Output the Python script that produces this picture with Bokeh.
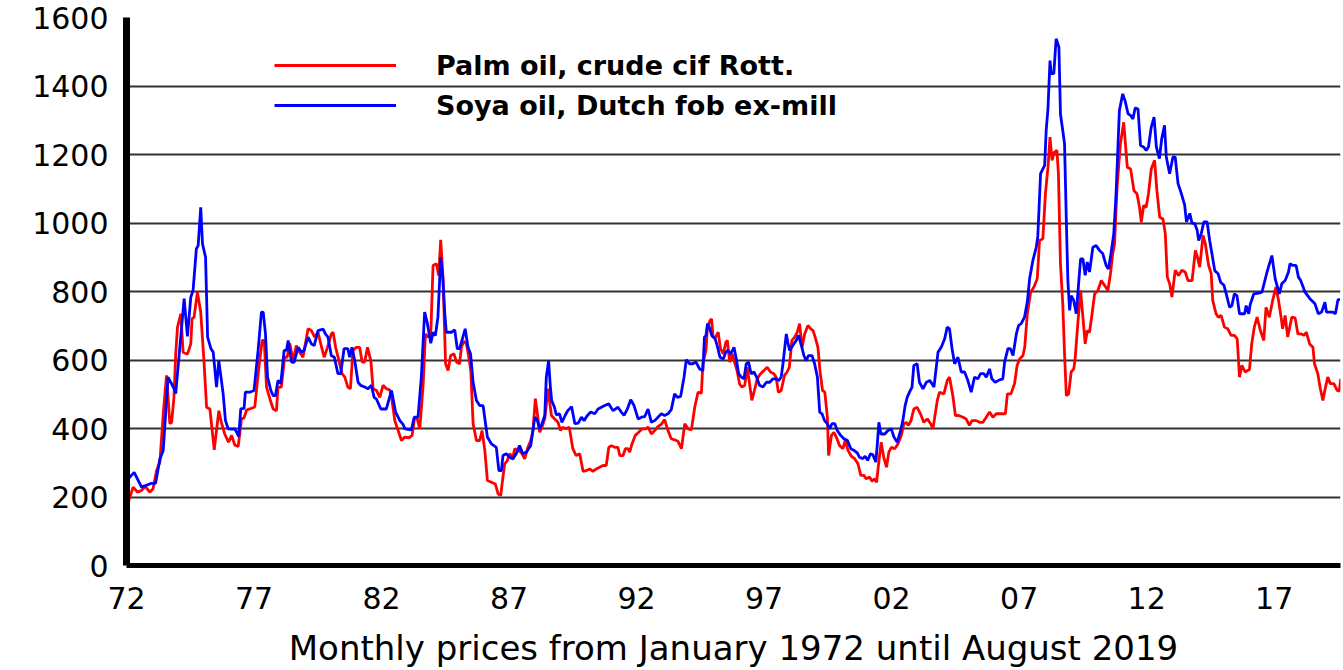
from bokeh.plotting import figure
from bokeh.models import Range1d, FixedTicker, Legend, LegendItem
from bokeh.embed import file_html
from bokeh.resources import INLINE

# ---- data (decimal year, USD/t) ----
palm_t = [1972.03,1972.07,1972.26,1972.43,1972.58,1972.74,1972.91,1973.04,1973.18,1973.31,1973.44,1973.57,1973.70,1973.77,1973.86,1973.93,
1974.00,1974.13,1974.22,1974.39,1974.52,1974.57,1974.65,1974.78,1974.91,1975.04,1975.14,1975.27,1975.44,1975.62,1975.72,1975.85,
1976.00,1976.12,1976.25,1976.38,1976.51,1976.61,1976.71,1976.90,1977.03,1977.19,1977.32,1977.40,1977.49,1977.62,1977.75,1977.88,1977.94,
1978.07,1978.20,1978.30,1978.40,1978.53,1978.66,1978.79,1978.92,1978.99,1979.12,1979.25,1979.38,1979.51,1979.60,1979.75,1979.88,
1980.03,1980.10,1980.20,1980.33,1980.45,1980.56,1980.68,1980.78,1980.88,1981.01,1981.14,1981.24,1981.34,1981.45,1981.58,1981.67,1981.80,1981.93,
1982.06,1982.19,1982.32,1982.41,1982.52,1982.65,1982.78,1982.91,1983.07,1983.20,1983.30,1983.40,1983.50,1983.63,1983.72,1983.82,1983.93,
1984.02,1984.15,1984.24,1984.32,1984.41,1984.51,1984.61,1984.71,1984.84,1984.94,1985.06,1985.13,1985.23,1985.33,1985.40,1985.50,1985.59,1985.72,1985.85,1985.94,
1986.05,1986.15,1986.31,1986.46,1986.57,1986.67,1986.76,1986.83,1986.93,1987.02,1987.15,1987.22,1987.35,1987.48,1987.61,1987.74,1987.85,1987.94,
1988.03,1988.11,1988.20,1988.29,1988.40,1988.53,1988.66,1988.79,1988.92,1989.02,1989.10,1989.23,1989.36,1989.50,1989.63,1989.77,1989.90,
1990.03,1990.16,1990.29,1990.42,1990.55,1990.68,1990.81,1990.91,1991.01,1991.14,1991.27,1991.34,1991.47,1991.56,1991.66,1991.73,1991.82,1991.95,
1992.08,1992.22,1992.35,1992.45,1992.58,1992.71,1992.84,1992.97,1993.10,1993.23,1993.36,1993.49,1993.62,1993.76,1993.89,
1994.02,1994.15,1994.28,1994.41,1994.54,1994.60,1994.72,1994.78,1994.88,1994.94,1995.00,1995.10,1995.20,1995.29,1995.40,1995.50,1995.56,1995.65,1995.75,1995.84,1995.94,
1996.04,1996.13,1996.24,1996.34,1996.43,1996.52,1996.62,1996.73,1996.86,1996.99,1997.12,1997.25,1997.38,1997.47,1997.56,1997.67,1997.80,1997.90,1997.99,
1998.09,1998.20,1998.30,1998.39,1998.49,1998.59,1998.72,1998.83,1998.92,1999.02,1999.11,1999.19,1999.29,1999.38,1999.48,1999.53,1999.64,1999.74,1999.83,1999.96,
2000.09,2000.18,2000.29,2000.42,2000.55,2000.68,2000.79,2000.92,2001.00,2001.14,2001.23,2001.33,2001.41,2001.49,2001.59,2001.69,2001.80,2001.89,2001.99,
2002.12,2002.25,2002.38,2002.48,2002.57,2002.66,2002.76,2002.87,2003.00,2003.13,2003.26,2003.40,2003.53,2003.62,2003.79,2003.88,
2004.05,2004.18,2004.27,2004.41,2004.50,2004.63,2004.80,2004.92,2005.05,2005.15,2005.32,2005.45,2005.58,2005.71,2005.84,2005.97,
2006.10,2006.30,2006.46,2006.54,2006.68,2006.82,2006.92,2007.02,2007.15,2007.22,2007.32,2007.45,2007.58,2007.71,2007.80,2007.93,
2008.03,2008.13,2008.21,2008.29,2008.38,2008.48,2008.54,2008.62,2008.71,2008.78,2008.85,2008.94,2009.04,2009.14,2009.19,2009.30,2009.41,2009.50,2009.59,2009.67,2009.76,2009.85,2009.96,
2010.09,2010.22,2010.35,2010.48,2010.58,2010.67,2010.74,2010.84,2010.97,2011.10,2011.24,2011.37,2011.50,2011.62,2011.72,2011.79,2011.88,2011.98,
2012.07,2012.18,2012.31,2012.40,2012.51,2012.64,2012.73,2012.81,2012.90,2012.99,2013.12,2013.25,2013.38,2013.51,2013.62,2013.78,2013.91,2013.99,
2014.08,2014.21,2014.30,2014.43,2014.53,2014.59,2014.72,2014.81,2014.92,2015.05,2015.18,2015.31,2015.44,2015.55,2015.64,2015.73,2015.86,
2016.03,2016.12,2016.22,2016.33,2016.46,2016.59,2016.68,2016.81,2016.94,2017.07,2017.17,2017.27,2017.33,2017.43,2017.53,2017.69,2017.82,2017.93,
2018.06,2018.17,2018.26,2018.39,2018.52,2018.58,2018.71,2018.81,2018.91,2019.00,2019.10,2019.20,2019.34,2019.47,2019.55,2019.61]
palm_v = [200,185,229,214,219,231,214,224,277,302,443,555,414,418,491,618,
696,735,623,617,647,720,725,798,740,594,462,457,338,452,418,384,
360,380,351,348,428,431,454,459,463,579,657,657,521,487,457,452,521,
521,608,608,649,598,642,623,608,637,691,686,667,681,652,608,637,
676,681,637,598,560,550,521,516,628,637,637,594,594,637,598,516,511,491,
526,516,513,482,423,394,365,375,373,380,433,428,399,526,676,667,676,
876,881,847,951,842,589,569,613,618,594,589,637,655,647,618,569,414,365,365,394,
336,248,243,238,209,204,258,297,306,326,316,341,336,330,311,345,365,394,
487,443,389,404,428,516,438,428,418,394,404,399,404,341,321,326,275,
277,282,275,282,287,292,292,345,350,345,345,321,321,341,341,331,355,380,
389,399,399,404,384,394,406,412,426,394,370,367,363,341,414,
399,396,462,506,503,589,628,696,715,720,667,667,681,633,618,652,657,594,618,594,569,
530,521,526,579,530,482,511,545,560,569,579,565,560,550,506,511,555,565,579,
657,667,681,706,637,676,701,691,686,662,637,569,511,506,433,321,380,389,375,350,
341,365,336,319,312,297,263,263,253,258,246,253,243,297,360,316,287,331,345,
341,355,380,414,418,409,423,457,462,443,418,428,414,399,482,506,
501,540,550,491,438,438,433,428,409,423,423,418,418,433,448,433,
443,443,443,501,501,531,584,603,613,638,735,798,813,837,949,954,
1085,1163,1251,1183,1207,1212,1144,881,764,618,496,501,565,574,599,706,803,725,647,686,681,730,793,
803,832,818,803,852,910,939,1105,1231,1294,1163,1158,1095,1085,1046,1002,1051,1046,
1085,1158,1183,1095,1017,1012,969,842,823,784,862,847,862,857,832,832,920,901,
871,964,939,876,852,774,735,725,730,696,691,672,672,662,550,584,565,
572,647,696,725,686,657,754,725,774,813,774,725,691,730,667,725,723,676,
676,672,681,647,637,589,560,516,482,516,550,531,531,511,509,545]

soya_t = [1972.07,1972.30,1972.59,1972.98,1973.14,1973.31,1973.44,1973.63,1973.87,1973.93,1974.26,1974.39,1974.52,1974.61,1974.74,1974.81,1974.91,1974.98,
1975.10,1975.18,1975.31,1975.40,1975.53,1975.62,1975.79,1975.88,1975.99,1976.12,1976.25,1976.40,1976.48,1976.61,1976.66,1976.83,
1977.00,1977.16,1977.29,1977.36,1977.45,1977.53,1977.66,1977.75,1977.84,1977.94,1978.05,1978.18,1978.27,1978.34,1978.47,1978.57,1978.73,1978.86,1978.96,
1979.12,1979.25,1979.36,1979.51,1979.71,1979.80,1979.90,1980.03,1980.15,1980.29,1980.40,1980.53,1980.68,1980.75,1980.84,1980.95,
1981.08,1981.18,1981.34,1981.47,1981.60,1981.71,1981.80,1981.97,1982.19,1982.39,1982.55,1982.72,1982.85,1982.92,1983.17,1983.28,1983.43,1983.56,1983.69,1983.80,1983.93,
1984.02,1984.11,1984.21,1984.32,1984.41,1984.48,1984.54,1984.74,1984.87,1984.97,1985.06,1985.19,1985.28,1985.39,1985.49,1985.59,1985.72,1985.85,1985.98,
1986.15,1986.31,1986.50,1986.60,1986.70,1986.76,1986.89,1987.02,1987.15,1987.28,1987.41,1987.54,1987.68,1987.80,1987.85,
1988.01,1988.11,1988.20,1988.29,1988.40,1988.46,1988.55,1988.62,1988.67,1988.78,1988.85,1988.98,1989.07,1989.20,1989.30,1989.45,1989.58,1989.71,1989.84,1989.94,
1990.07,1990.20,1990.36,1990.49,1990.62,1990.75,1990.91,1990.99,1991.08,1991.27,1991.40,1991.51,1991.64,1991.77,1991.90,
1992.06,1992.19,1992.32,1992.45,1992.58,1992.71,1992.84,1992.97,1993.10,1993.23,1993.36,1993.49,1993.60,1993.73,1993.86,1993.95,
1994.08,1994.20,1994.33,1994.47,1994.60,1994.66,1994.72,1994.78,1994.85,1994.95,1995.08,1995.16,1995.27,1995.40,1995.50,1995.58,1995.69,1995.82,1995.91,
1996.00,1996.11,1996.21,1996.30,1996.39,1996.49,1996.60,1996.71,1996.82,1996.95,1997.09,1997.22,1997.35,1997.48,1997.57,1997.67,1997.74,1997.87,1997.93,
1998.00,1998.13,1998.26,1998.35,1998.46,1998.56,1998.65,1998.74,1998.88,1998.98,1999.09,1999.18,1999.27,1999.37,1999.48,1999.57,1999.66,1999.77,1999.87,
2000.00,2000.13,2000.27,2000.40,2000.53,2000.66,2000.74,2000.87,2000.96,2001.06,2001.17,2001.26,2001.38,2001.44,2001.50,2001.58,2001.73,2001.86,2001.99,
2002.09,2002.22,2002.35,2002.44,2002.53,2002.61,2002.70,2002.80,2002.87,2003.00,2003.09,2003.23,2003.36,2003.50,2003.66,2003.82,2003.95,
2004.08,2004.18,2004.27,2004.37,2004.47,2004.60,2004.73,2004.86,2004.99,2005.12,2005.25,2005.38,2005.49,2005.62,2005.71,2005.84,2005.93,
2006.06,2006.23,2006.36,2006.43,2006.56,2006.66,2006.76,2006.89,2006.98,2007.08,2007.21,2007.32,2007.41,2007.54,2007.67,2007.73,2007.84,
2008.00,2008.06,2008.13,2008.21,2008.26,2008.36,2008.45,2008.56,2008.62,2008.71,2008.78,2008.85,2008.91,2008.98,
2009.04,2009.14,2009.24,2009.33,2009.41,2009.50,2009.59,2009.67,2009.76,2009.89,2010.02,2010.15,2010.28,2010.41,2010.50,2010.60,2010.71,2010.80,2010.93,
2011.06,2011.15,2011.27,2011.37,2011.46,2011.55,2011.66,2011.76,2011.88,2011.98,2012.07,2012.18,2012.29,2012.38,2012.50,2012.59,2012.70,2012.77,2012.90,
2013.03,2013.12,2013.23,2013.36,2013.49,2013.56,2013.69,2013.78,2013.88,2013.98,2014.04,2014.14,2014.24,2014.37,2014.47,2014.56,2014.67,2014.80,2014.90,
2015.03,2015.12,2015.25,2015.34,2015.44,2015.54,2015.64,2015.84,2015.90,2016.00,2016.06,2016.20,2016.39,2016.52,2016.72,2016.91,
2017.04,2017.20,2017.30,2017.43,2017.56,2017.62,2017.73,2017.86,2017.95,2018.04,2018.21,2018.40,2018.60,2018.73,2018.86,2018.99,2019.05,2019.30,2019.40,2019.50,2019.58]
soya_v = [253,272,229,240,240,311,336,550,516,502,779,669,783,803,925,934,1046,939,
900,667,633,623,521,598,501,423,399,398,399,377,457,459,506,506,
511,628,740,740,676,550,511,496,496,540,531,628,628,657,594,593,637,623,628,
667,647,642,686,690,676,667,613,608,560,560,633,633,608,637,598,
535,526,521,516,526,491,486,457,457,511,448,423,411,399,396,433,433,550,740,706,649,
681,671,725,900,832,735,681,681,688,633,633,667,691,637,618,535,482,467,467,
375,355,345,277,277,321,326,316,311,326,350,326,331,345,350,
433,423,399,414,438,550,598,521,482,462,440,443,418,438,452,464,414,416,433,423,
438,448,443,457,462,467,472,462,452,462,448,438,457,484,467,
428,433,435,457,418,423,433,443,438,443,455,501,491,494,550,601,
589,589,594,574,569,667,671,706,696,671,662,642,608,603,623,628,618,637,603,
560,550,545,589,594,560,565,550,526,521,535,535,545,545,540,550,589,676,652,
628,643,657,672,643,613,598,613,613,589,550,448,443,423,414,399,414,414,394,
380,370,365,341,336,328,316,312,319,307,326,324,302,355,418,384,384,394,399,
375,360,394,423,467,491,506,521,584,589,535,516,535,540,521,623,638,
662,696,691,633,589,608,565,565,540,506,550,545,560,560,550,574,545,
535,542,545,594,633,633,613,676,701,706,725,769,837,891,929,959,1144,
1168,1270,1334,1474,1435,1437,1538,1513,1318,1270,1231,1007,832,745,
788,774,735,822,895,895,847,886,857,929,934,920,910,876,866,910,969,1085,1328,
1377,1358,1319,1314,1304,1336,1333,1226,1222,1212,1222,1280,1309,1222,1188,1246,1285,1193,1144,
1193,1192,1115,1086,1052,1003,1028,999,999,979,949,969,1003,1003,949,910,861,852,827,
818,793,754,759,793,788,735,735,759,735,762,793,795,798,857,905,
837,793,823,832,857,881,876,876,842,832,798,779,764,735,740,769,740,740,735,776,776]

tick_years = [1972, 1977, 1982, 1987, 1992, 1997, 2002, 2007, 2012, 2017]
tick_labels = ["72", "77", "82", "87", "92", "97", "02", "07", "12", "17"]
y_ticks = [0, 200, 400, 600, 800, 1000, 1200, 1400, 1600]
series_names = ["Palm oil, crude cif Rott.", "Soya oil, Dutch fob ex-mill"]
x_title = "Monthly prices from January 1972 until August 2019"

FONT = "DejaVu Sans"

p = figure(width=1342, height=670, output_backend="svg", toolbar_location=None,
           x_range=Range1d(1972, 2019.6), y_range=Range1d(0, 1600),
           min_border_left=126, min_border_right=2, min_border_top=17, min_border_bottom=105)
p.outline_line_color = None
p.background_fill_color = "white"
p.border_fill_color = "white"

# axes
p.xaxis.ticker = FixedTicker(ticks=tick_years)
p.xaxis.major_label_overrides = {t: l for t, l in zip(tick_years, tick_labels)}
p.yaxis.ticker = FixedTicker(ticks=y_ticks)
for ax in (p.xaxis, p.yaxis):
    ax.major_tick_line_color = None
    ax.minor_tick_line_color = None
    ax.major_tick_out = 0
    ax.major_tick_in = 0
    ax.axis_line_color = "black"
    ax.major_label_text_font = FONT
    ax.major_label_text_font_size = "30px"
    ax.major_label_text_color = "black"
p.yaxis.axis_line_width = 7
p.xaxis.axis_line_width = 5
p.yaxis.major_label_standoff = 18
p.xaxis.major_label_standoff = 21
p.xaxis.axis_label = x_title
p.xaxis.axis_label_text_font = FONT
p.xaxis.axis_label_text_font_size = "34px"
p.xaxis.axis_label_text_font_style = "normal"
p.xaxis.axis_label_text_color = "black"
p.xaxis.axis_label_standoff = 16

# grid
p.xgrid.grid_line_color = None
p.ygrid.grid_line_color = "#333333"
p.ygrid.grid_line_width = 2

r_palm = p.line(palm_t, palm_v, line_color="#ff0000", line_width=2.8)
r_soya = p.line(soya_t, soya_v, line_color="#0000ff", line_width=2.8)

legend = Legend(items=[LegendItem(label=series_names[0], renderers=[r_palm]),
                       LegendItem(label=series_names[1], renderers=[r_soya])],
                location=(148, 440), glyph_width=122, glyph_height=40,
                label_height=40, label_standoff=40, spacing=0, padding=0, margin=0,
                border_line_color=None, background_fill_alpha=0,
                label_text_font=FONT, label_text_font_style="bold",
                label_text_font_size="27px", label_text_color="black")
p.add_layout(legend)

open("out.html", "w").write(file_html(p, INLINE))
